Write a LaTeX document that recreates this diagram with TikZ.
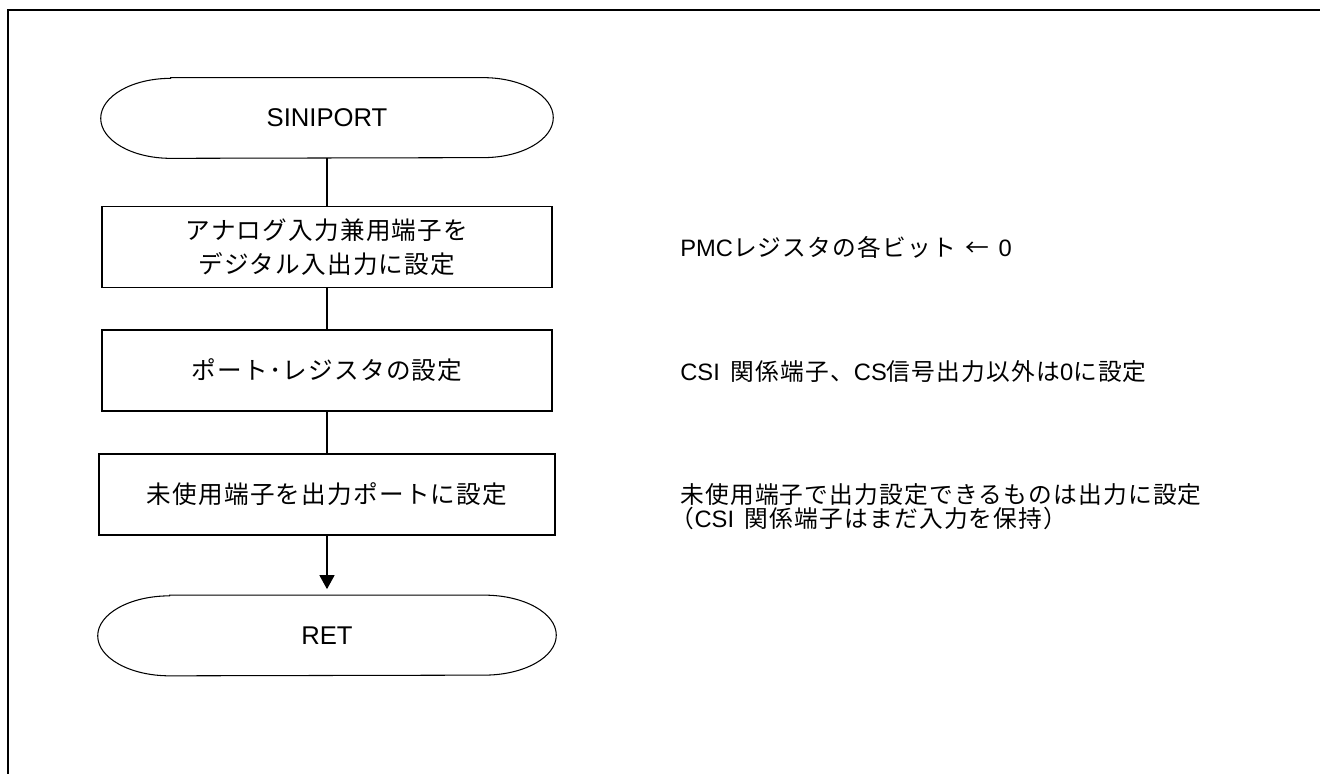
\documentclass[tikz,border=0pt]{standalone}
\usepackage{fontspec}
\setmainfont{Liberation Sans}
\newfontfamily\jp[LetterSpace=5]{Noto Sans CJK JP}
\usetikzlibrary{arrows.meta,calc}

\begin{document}
\begin{tikzpicture}[x=0.02cm,y=0.02cm,
  box/.style={draw,line width=0.8pt,minimum width=9cm,minimum height=1.62cm,align=center,font=\jp\fontsize{14}{19.3}\selectfont},
  term/.style={minimum width=9.04cm,minimum height=1.6cm,font=\fontsize{14.6}{17}\selectfont},
  note/.style={anchor=west,inner sep=0pt,align=left,font=\fontsize{13.5}{13.1}\selectfont},
  termline/.style={line width=0.6pt},
  link/.style={line width=0.8pt}]
\useasboundingbox (0,0) rectangle (1320,774);
%\draw[step=50,gray,very thin] (0,0) grid (1320,774);
\draw[line width=1.2pt] (8,0) -- (8,764) -- (1320,764);
% flow
\node[term] (start) at (327,656) {SINIPORT};
\node[box] (pmc) at (327,527) {アナログ入力兼用端子を\\デジタル入出力に設定};
\node[box] (preg) at (327,403.5) {ポート･レジスタの設定};
\node[box,minimum width=9.12cm] (unused) at (327,279.5) {未使用端子を出力ポートに設定};
\node[term,minimum width=9.16cm] (ret) at (327,138.5) {RET};
\draw[termline] ($(start.north west)+(70,0)$) -- ($(start.north east)+(-70,0)$) arc[start angle=90,end angle=-90,x radius=1.4cm,y radius=0.8cm] -- ($(start.south west)+(70,0)$) arc[start angle=270,end angle=90,x radius=1.4cm,y radius=0.8cm] -- cycle;
\draw[termline] ($(ret.north west)+(72,0)$) -- ($(ret.north east)+(-72,0)$) arc[start angle=90,end angle=-90,x radius=1.44cm,y radius=0.8cm] -- ($(ret.south west)+(72,0)$) arc[start angle=270,end angle=90,x radius=1.44cm,y radius=0.8cm] -- cycle;
\draw[link] (start) -- (pmc);
\draw[link] (pmc) -- (preg);
\draw[link] (preg) -- (unused);
\draw[link,-{Triangle[length=0.28cm,width=0.3cm]},shorten >=0.12cm] (unused) -- (ret);
% notes
\node[note] (n1) at (680,527) {PMC{\jp レジスタの各ビット\hspace{0.4em}←\hspace{0.4em}}0};
\node[note] (n2) at (680,402) {CSI\hspace{0.45em}{\jp 関係端子、}CS{\jp 信号出力以外は}0{\jp に設定}};
\node[note,font=\jp\fontsize{13.5}{13.8}\selectfont] (n3) at (680,267.5) {未使用端子で出力設定できるものは出力に設定\\\hspace*{-0.4em}（{\rmfamily CSI}\hspace{0.45em}関係端子はまだ入力を保持）};
\end{tikzpicture}
\end{document}
